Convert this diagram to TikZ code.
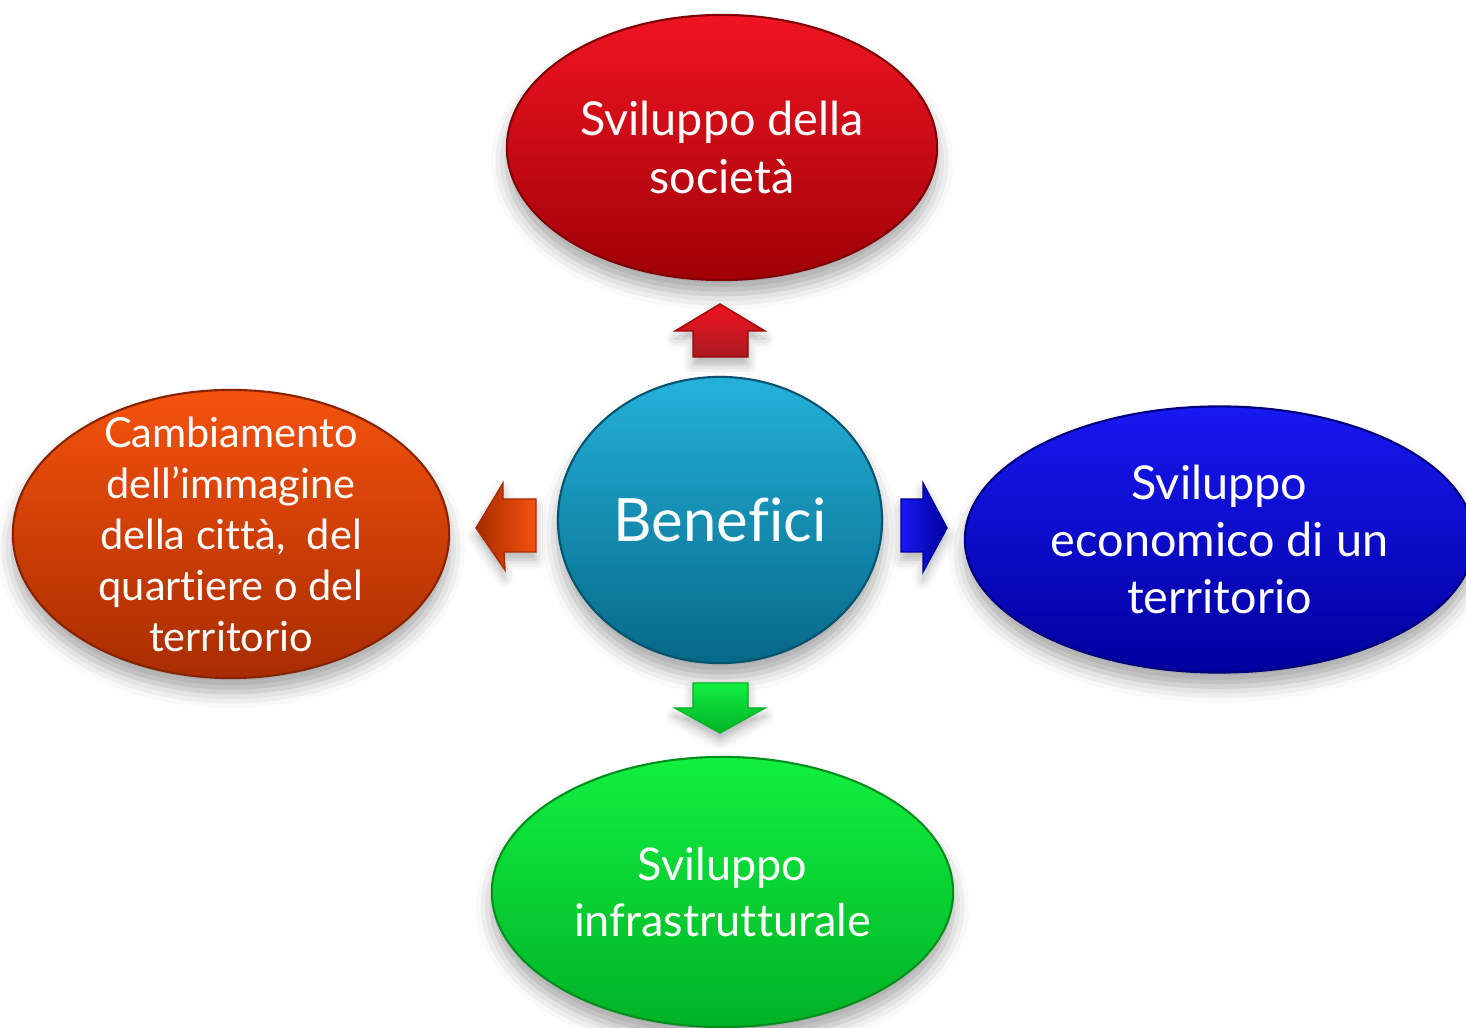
\documentclass[tikz,border=0pt]{standalone}
\usepackage{fontspec}
\setmainfont[Ligatures=NoCommon]{Lato}
\usetikzlibrary{shapes.geometric,shadows.blur}
\definecolor{redT}{HTML}{F01422}
\definecolor{redB}{HTML}{A00006}
\definecolor{tealT}{HTML}{24B2DA}
\definecolor{tealB}{HTML}{066888}
\definecolor{oraT}{HTML}{F5520C}
\definecolor{oraB}{HTML}{A82C00}
\definecolor{bluT}{HTML}{1818F2}
\definecolor{bluB}{HTML}{00009E}
\definecolor{grnT}{HTML}{12F040}
\definecolor{grnB}{HTML}{00B226}
\tikzset{
  bubble/.style={ellipse, inner sep=0pt, line width=0.6pt,
    blur shadow={shadow xshift=0pt, shadow yshift=-0.14cm, shadow blur radius=0.16cm, shadow opacity=35}},
  btext/.style={text=white, align=center, inner sep=0pt},
  blockarrow/.style={line width=0.4pt,
    blur shadow={shadow xshift=0pt, shadow yshift=-0.08cm, shadow blur radius=0.1cm, shadow opacity=30}}
}
\begin{document}
\begin{tikzpicture}[x=0.01cm,y=-0.01cm]
\useasboundingbox (0,0) rectangle (1466,1028);
% ellipses
\node[bubble, minimum width=4.30cm, minimum height=2.65cm, top color=redT, bottom color=redB, draw=redB!80!black] (soc) at (722,147.5) {};
\node[bubble, minimum width=4.36cm, minimum height=2.88cm, top color=oraT, bottom color=oraB, draw=oraB!80!black] (imm) at (231,534) {};
\node[bubble, minimum width=5.09cm, minimum height=2.66cm, top color=bluT, bottom color=bluB, draw=bluB!80!black] (eco) at (1219.5,539.5) {};
\node[bubble, minimum width=4.61cm, minimum height=2.70cm, top color=grnT, bottom color=grnB, draw=grnB!80!black] (inf) at (722.5,892) {};
\node[bubble, minimum width=3.24cm, minimum height=2.86cm, top color=tealT, bottom color=tealB, draw=tealB!80!black] (ben) at (720,520) {};
% texts
\node[btext, font=\fontsize{13.3pt}{16.5pt}\selectfont] (tsoc) at (soc) {Sviluppo della\\società};
\node[btext, font=\fontsize{11.8pt}{14.5pt}\selectfont] (timm) at (imm) {Cambiamento\\dell’immagine\\della città,~ del\\quartiere o del\\territorio};
\node[btext, font=\fontsize{13.3pt}{16.2pt}\selectfont] (teco) at (eco) {Sviluppo\\economico di un\\territorio};
\node[btext, font=\fontsize{12.8pt}{16pt}\selectfont] (tinf) at (inf) {Sviluppo\\infrastrutturale};
\node[btext, font=\fontsize{17pt}{20pt}\selectfont] (tben) at (ben) {Benefici};
% block arrows
\path[blockarrow, top color=redT, bottom color=redB!90, draw=redB]
  (720,304) -- (765,331) -- (748,331) -- (748,357) -- (693,357) -- (693,331) -- (675,331) -- cycle;
\path[blockarrow, top color=grnT, bottom color=grnB, draw=grnB]
  (693,683) -- (748,683) -- (748,708) -- (765,708) -- (720,733) -- (675,708) -- (693,708) -- cycle;
\path[blockarrow, left color=oraB, right color=oraT, draw=oraB]
  (476,528) -- (503,483) -- (503,499) -- (536,499) -- (536,552) -- (504,552) -- (505,570) -- cycle;
\path[blockarrow, left color=bluT, right color=bluB, draw=bluB]
  (901,499) -- (923,499) -- (923,483) -- (947,528) -- (923,572) -- (923,552) -- (901,552) -- cycle;
\end{tikzpicture}
\end{document}
